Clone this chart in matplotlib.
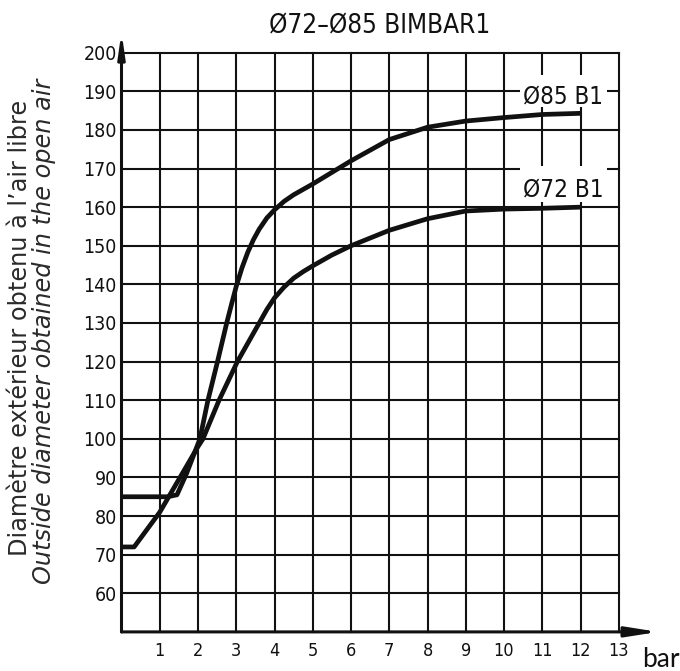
import matplotlib
matplotlib.use("Agg")
import matplotlib.pyplot as plt
from matplotlib import font_manager as fm
from matplotlib.patches import Rectangle

# ---------------- data ----------------
title_text = "Ø72–Ø85 BIMBAR1"
series_labels = ["Ø85 B1", "Ø72 B1"]

x85 = [0, 1.2, 1.45, 1.7, 2.05, 2.26, 2.51, 2.75, 2.88, 3.0, 3.15, 3.3, 3.45, 3.6, 3.8, 4.0, 4.25, 4.5,
       5.0, 6.0, 7.0, 8.0, 9.0, 10.0, 11.0, 12.0]
y85 = [85, 85, 85.5, 91, 100, 110, 120, 130, 135, 139.5, 144.3, 148.3, 151.6, 154.3, 157.2, 159.3, 161.5, 163.2,
       166, 172, 177.5, 180.7, 182.3, 183.2, 184, 184.3]

x72 = [0, 0.33, 1.0, 2.0, 2.13, 2.55, 3.03, 3.6, 3.8, 4.0, 4.25, 4.5, 4.75, 5.0, 5.5, 6.0, 7.0, 8.0, 9.0,
       10.0, 11.0, 12.0]
y72 = [72, 72, 81, 98, 100, 110, 120, 130, 133.5, 136.5, 139.3, 141.6, 143.3, 144.8, 147.6, 150, 154, 157, 159,
       159.5, 159.7, 160]

x_ticks = list(range(1, 14))
x_tick_labels = [str(v) for v in x_ticks]
y_ticks = list(range(60, 201, 10))
y_tick_labels = [str(v) for v in y_ticks]

ylabel_fr = "Diamètre extérieur obtenu à l’air libre"
ylabel_en = "Outside diameter obtained in the open air"
unit_label = "bar"

# ---------------- fonts ----------------
avail = {f.name for f in fm.fontManager.ttflist}
cond_dejavu = any(f.name == "DejaVu Sans" and "condensed" in str(f.stretch) for f in fm.fontManager.ttflist)
if "Liberation Sans Narrow" in avail:
    narrow = dict(family="Liberation Sans Narrow")
elif "DejaVu Sans Condensed" in avail:
    narrow = dict(family="DejaVu Sans Condensed")
elif cond_dejavu:
    narrow = dict(family="DejaVu Sans", fontstretch="condensed")
else:
    narrow = dict(family="Roboto")
geo = "DejaVu Sans"

INK = "#111111"
W, H = 680, 671
fig = plt.figure(figsize=(W / 100, H / 100), dpi=100)
x0_px, x13_px = 121.5, 618.8
y50_px, y200_px = 631.9, 52.7
ax = fig.add_axes([x0_px / W, (H - y50_px) / H, (x13_px - x0_px) / W, (y50_px - y200_px) / H])
ax.set_xlim(0, 13)
ax.set_ylim(50, 200)
for sp in ax.spines.values():
    sp.set_visible(False)

ax.set_xticks(x_ticks)
ax.set_xticklabels(x_tick_labels, color=INK, fontweight="medium", **narrow)
ax.set_yticks(y_ticks)
ax.set_yticklabels(y_tick_labels, color=INK, fontweight="medium", **narrow)
ax.tick_params(axis="x", length=0, pad=7.0, labelsize=13)
ax.tick_params(axis="y", length=0, pad=3.5, labelsize=14)
ax.grid(True, color=INK, lw=1.5)
for gl in ax.xaxis.get_gridlines() + ax.yaxis.get_gridlines():
    gl.set_clip_on(False)

# axes with arrows
ax.annotate("", xy=(14.03, 50), xytext=(0, 50), annotation_clip=False,
            arrowprops=dict(arrowstyle="-|>,head_length=1.9,head_width=0.3", lw=2.2,
                            color=INK, shrinkA=0, shrinkB=0, mutation_scale=10))
ax.annotate("", xy=(0, 205.4), xytext=(0, 50), annotation_clip=False,
            arrowprops=dict(arrowstyle="-|>,head_length=1.4,head_width=0.2", lw=2.2,
                            color=INK, shrinkA=0, shrinkB=0, mutation_scale=10))

# curves
ax.plot(x85, y85, color=INK, lw=3.4, solid_joinstyle="round", solid_capstyle="butt", zorder=4, clip_on=False)
ax.plot(x72, y72, color=INK, lw=3.4, solid_joinstyle="round", solid_capstyle="butt", zorder=4, clip_on=False)

# label boxes + labels
ax.add_patch(Rectangle((10.42, 185.9), 2.27, 8.3, facecolor="white", edgecolor="none", zorder=3))
ax.add_patch(Rectangle((10.42, 161.3), 2.27, 9.3, facecolor="white", edgecolor="none", zorder=3))
t85 = ax.text(11.55, 186.9, series_labels[0], ha="center", va="baseline", color=INK, fontsize=18,
              zorder=5, fontweight="medium", **narrow)
t72 = ax.text(11.55, 162.7, series_labels[1], ha="center", va="baseline", color=INK, fontsize=18,
              zorder=5, fontweight="medium", **narrow)

ttl = fig.text(380 / W, (H - 33) / H, title_text, ha="center", va="baseline", color=INK, fontsize=18,
               fontweight="medium", **narrow)

yl1 = fig.text(20 / W, (H - 556) / H, ylabel_fr, rotation=90, ha="center", va="bottom",
               color="#2a2a2a", fontsize=12, family=geo)
yl2 = fig.text(44 / W, (H - 584) / H, ylabel_en, rotation=90, ha="center", va="bottom",
               color="#2a2a2a", fontsize=12, family=geo, style="italic")

ub = fig.text(641.7 / W, (H - 666.7) / H, unit_label, ha="left", va="baseline", color=INK,
              fontsize=19, family="Lato")

# fit text sizes to measured extents
renderer = fig.canvas.get_renderer()
def fit(t, target, use_height=False):
    bb = t.get_window_extent(renderer)
    cur = bb.height if use_height else bb.width
    t.set_fontsize(t.get_fontsize() * target / cur)

fit(ttl, 222)
fit(t85, 80)
fit(t72, 81)
fit(yl1, 455, use_height=True)
yl2.set_fontsize(yl1.get_fontsize())

fig.savefig("out.png", dpi=100)
